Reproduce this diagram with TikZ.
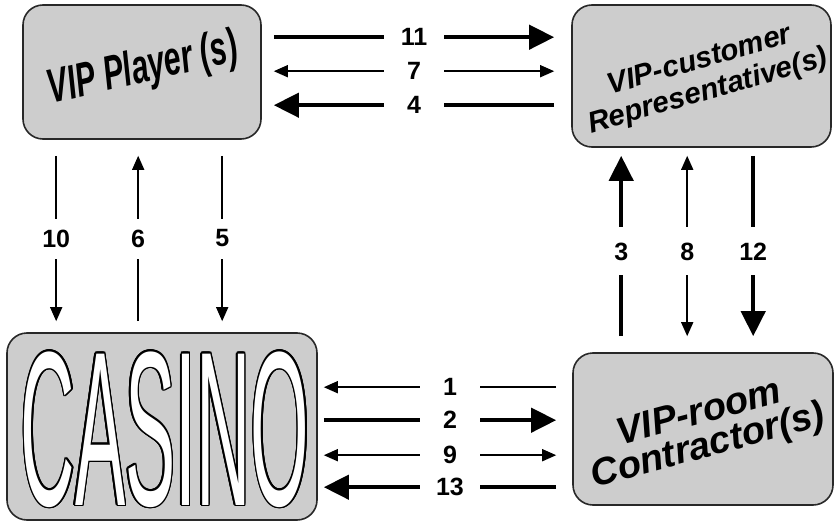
\documentclass[tikz,border=0pt]{standalone}
\usepackage{fontspec}
\setmainfont{Liberation Sans}
\newfontfamily\casinofont[FakeStretch=0.342]{Liberation Sans}
\newfontfamily\vpfont[FakeStretch=0.63]{Liberation Sans}
\usepackage{contour}
\contourlength{1.5pt}
\usetikzlibrary{arrows.meta,calc}
\definecolor{boxgray}{RGB}{205,205,205}
\definecolor{edgecol}{RGB}{40,40,40}
\tikzset{
  box/.style={draw=edgecol, line width=1.6pt, fill=boxgray, rounded corners=20pt, inner sep=0pt},
  bigtip/.tip={Triangle[length=25pt,width=24pt]},
  smalltip/.tip={Triangle[length=14pt,width=12pt]},
  thickarr/.style={line width=4.2pt, -bigtip},
  thinarr/.style={line width=1.5pt, -smalltip},
  thinboth/.style={line width=1.5pt, smalltip-smalltip},
  numfont/.style={font=\fontsize{25}{25}\selectfont\bfseries},
  hlab/.style={numfont, fill=white, minimum width=60pt, minimum height=20pt, inner sep=0pt},
  vlabl/.style={numfont, fill=white, minimum width=36pt, minimum height=40pt, inner sep=0pt},
  vlabr/.style={numfont, fill=white, minimum width=36pt, minimum height=48pt, inner sep=0pt},
}
\begin{document}
\begin{tikzpicture}[x=1pt,y=-1pt]
\useasboundingbox (0,0) rectangle (835,524);
% boxes
\node[box, minimum width=238pt, minimum height=134pt] (vp) at (142,72) {};
\node[box, minimum width=259pt, minimum height=142pt] (cr) at (701.5,76) {};
\node[box, minimum width=310pt, minimum height=187pt] (cas) at (162,426.5) {};
\node[box, minimum width=260pt, minimum height=152pt] (vr) at (703,429) {};
% box texts
\node[rotate=13, inner sep=0pt, font=\vpfont\fontsize{48}{48}\selectfont\bfseries\itshape] (vpt) at (143,70) {VIP Player (s)};
\node[rotate=16, inner sep=0pt, align=center, font=\fontsize{29.5}{32}\selectfont\bfseries\itshape] (crt) at (704,77) {VIP-customer\\Representative(s)};
\node[rotate=15, inner sep=0pt, align=center, font=\fontsize{38}{34}\selectfont\bfseries\itshape] (vrt) at (704,431) {VIP-room\\Contractor(s)};
\node[anchor=base, inner sep=0pt, text=white, font=\casinofont\fontsize{220}{220}\selectfont] (cast) at (165,505) {\contour{black}{CASINO}};
% top arrows
\draw[thickarr] ($(vp.north east)+(12,33)$) -- node[hlab]{11} ($(cr.north west)+(-17,33)$);
\draw[thinboth] ($(vp.north east)+(12,67)$) -- node[hlab]{7} ($(cr.north west)+(-17,67)$);
\draw[thickarr] ($(cr.north west)+(-17,101)$) -- node[hlab]{4} ($(vp.north east)+(12,101)$);
% left vertical arrows
\draw[thinarr] ($(vp.south west)+(34,16)$) -- node[vlabl]{10} ($(cas.north west)+(50,-11)$);
\draw[thinarr] ($(cas.north west)+(132,-11)$) -- node[vlabl]{6} ($(vp.south west)+(116,16)$);
\draw[thinarr] ($(vp.south west)+(200,16)$) -- node[vlabl]{5} ($(cas.north west)+(216,-11)$);
% right vertical arrows
\draw[thickarr] ($(vr.north west)+(49,-16)$) -- node[vlabr, pos=0.47]{3} ($(cr.south west)+(50,8)$);
\draw[thinboth] ($(vr.north west)+(115,-16)$) -- node[vlabr, pos=0.47]{8} ($(cr.south west)+(116,8)$);
\draw[thickarr] ($(cr.south west)+(182,8)$) -- node[vlabr, pos=0.53]{12} ($(vr.north west)+(181,-16)$);
% bottom arrows
\draw[thinarr] ($(vr.north west)+(-16,35)$) -- node[hlab, pos=0.457]{1} ($(cas.north east)+(6,55)$);
\draw[thickarr] ($(cas.north east)+(6,88)$) -- node[hlab, pos=0.543]{2} ($(vr.north west)+(-16,68)$);
\draw[thinboth] ($(cas.north east)+(6,123)$) -- node[hlab, pos=0.543]{9} ($(vr.north west)+(-16,103)$);
\draw[thickarr] ($(vr.north west)+(-16,135)$) -- node[hlab, pos=0.457]{13} ($(cas.north east)+(6,155)$);
\end{tikzpicture}
\end{document}
